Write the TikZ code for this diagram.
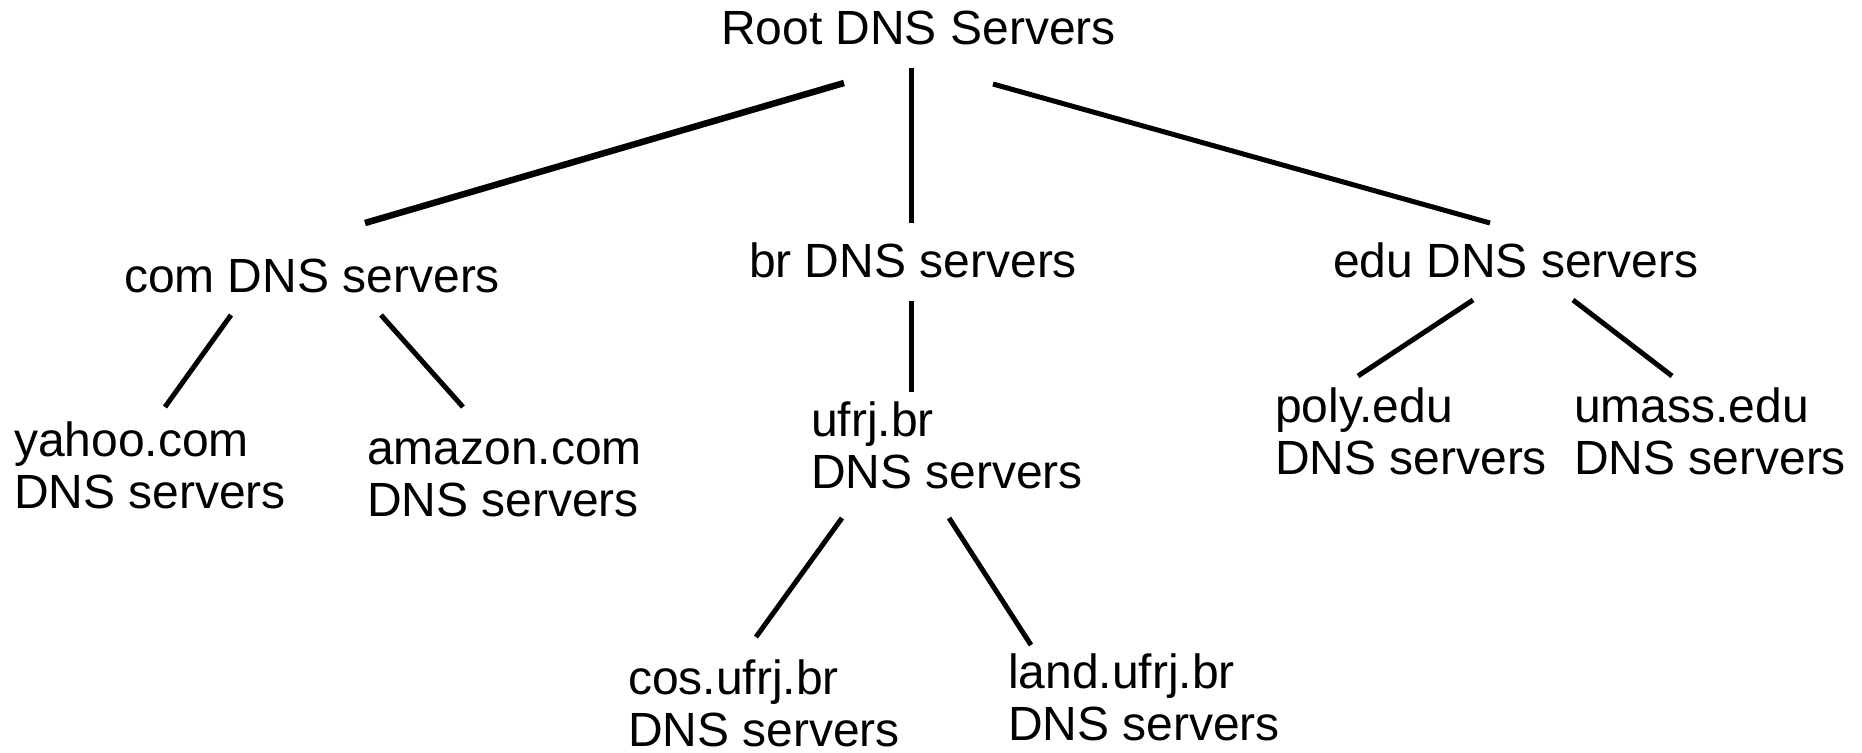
\documentclass[tikz,border=0pt]{standalone}
\usepackage{fontspec}
\setmainfont{Liberation Sans}
\begin{document}
\begin{tikzpicture}[x=1pt,y=-1pt,
  lbl/.style={anchor=base west, inner sep=0pt, outer sep=0pt, align=left,
    font=\fontsize{48}{52}\selectfont},
  edge/.style={line width=5pt, black},
  heavy edge/.style={line width=6.5pt, black}]
\useasboundingbox (0,0) rectangle (1862,752);

% labels (base anchor = baseline of the last line)
\node[lbl] (root)   at (721,45)   {Root DNS Servers};
\node[lbl] (com)    at (124,292)  {com DNS servers};
\node[lbl] (br)     at (749,277)  {br DNS servers};
\node[lbl] (edu)    at (1333,277) {edu DNS servers};
\node[lbl] (yahoo)  at (14,508)   {yahoo.com\\DNS servers};
\node[lbl] (amazon) at (367,516)  {amazon.com\\DNS servers};
\node[lbl] (ufrj)   at (811,488)  {ufrj.br\\DNS servers};
\node[lbl] (poly)   at (1275,474) {poly.edu\\DNS servers};
\node[lbl] (umass)  at (1574,474) {umass.edu\\DNS servers};
\node[lbl] (cos)    at (628,746)  {cos.ufrj.br\\DNS servers};
\node[lbl] (land)   at (1008,740) {land.ufrj.br\\DNS servers};

% connector end points
\coordinate (rootL) at (844,83);
\coordinate (rootM) at (911,68);
\coordinate (rootR) at (993,84);
\coordinate (comT)  at (365,223);
\coordinate (brT)   at (911,223);
\coordinate (eduT)  at (1490,223);
\coordinate (comL)  at (231,315);
\coordinate (comR)  at (381,315);
\coordinate (yahooT) at (165,407);
\coordinate (amazonT) at (463,407);
\coordinate (brB)   at (911,301);
\coordinate (ufrjT) at (911,392);
\coordinate (ufrjL) at (842,518);
\coordinate (ufrjR) at (949,518);
\coordinate (cosT)  at (756,637);
\coordinate (landT) at (1031,645);
\coordinate (eduL)  at (1473,300);
\coordinate (eduR)  at (1573,300);
\coordinate (polyT) at (1358,376);
\coordinate (umassT) at (1672,376);

\draw[heavy edge] (rootL) -- (comT);
\draw[edge] (rootM) -- (brT);
\draw[edge] (rootR) -- (eduT);
\draw[edge] (comL) -- (yahooT);
\draw[edge] (comR) -- (amazonT);
\draw[edge] (brB) -- (ufrjT);
\draw[edge] (ufrjL) -- (cosT);
\draw[edge] (ufrjR) -- (landT);
\draw[edge] (eduL) -- (polyT);
\draw[edge] (eduR) -- (umassT);
\end{tikzpicture}
\end{document}
